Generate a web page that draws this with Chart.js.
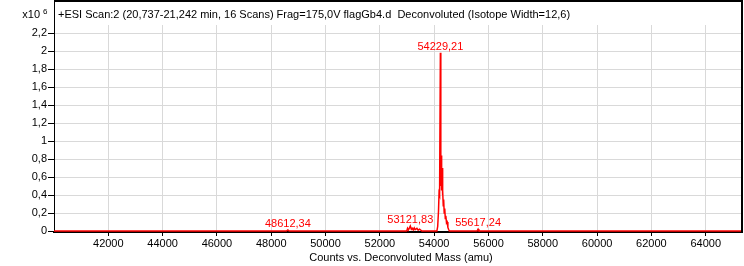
<!DOCTYPE html>
<html>
<head>
<meta charset="utf-8">
<script src="https://cdn.jsdelivr.net/npm/chart.js@4.4.1/dist/chart.umd.min.js"></script>
<style>
  body { margin: 0; background: #fff; }
  canvas { display: block; }
</style>
</head>
<body>
<canvas id="spectrum" width="744" height="266"></canvas>
<script>
// deconvoluted spectrum, counts in units of 10^6
const masses = [40000, 48560, 48612.34, 48660, 52990, 53019, 53050, 53121.83, 53160, 53192, 53230,
  53266, 53300, 53365, 53410, 53461, 53549, 54100, 54130, 54160, 54180, 54200, 54229.21, 54245,
  54261, 54275, 54290, 54305, 54320, 54335, 54350, 54370, 54390, 54410, 54430, 54455, 54480,
  54505, 54530, 54560, 55580, 55617.24, 55650, 65300];
const counts = [0, 0, 0.012, 0, 0, 0.03, 0.01, 0.055, 0.02, 0.03, 0.012,
  0.035, 0.015, 0.03, 0.01, 0.02, 0, 0, 0.05, 0.22, 0.42, 0.4, 1.98, 0.5,
  0.84, 0.45, 0.7, 0.4, 0.45, 0.28, 0.35, 0.2, 0.25, 0.14, 0.17, 0.09, 0.1,
  0.04, 0.02, 0, 0, 0.02, 0, 0];

// labelled peaks
const peakMasses = [48612.34, 53121.83, 54229.21, 55617.24];
const peakCounts = [0.012, 0.055, 1.98, 0.02];
const peakLabels = ['48612,34', '53121,83', '54229,21', '55617,24'];

const xTicks = [42000, 44000, 46000, 48000, 50000, 52000, 54000, 56000, 58000, 60000, 62000, 64000];
const yTicks = [0, 0.2, 0.4, 0.6, 0.8, 1, 1.2, 1.4, 1.6, 1.8, 2, 2.2];

const titleText = '+ESI Scan:2 (20,737-21,242 min, 16 Scans) Frag=175,0V flagGb4.d  Deconvoluted (Isotope Width=12,6)';
const xTitle = 'Counts vs. Deconvoluted Mass (amu)';

const FONT = '"Liberation Sans", Arial, sans-serif';
Chart.defaults.font.family = FONT;
Chart.defaults.font.size = 11;
Chart.defaults.color = '#000';

// frame, header text, axis title and peak labels
const decorations = {
  id: 'decorations',
  afterDraw(chart) {
    const ctx = chart.ctx;
    const ca = chart.chartArea;
    const xs = chart.scales.x, ys = chart.scales.y;
    ctx.save();
    ctx.fillStyle = '#000';
    ctx.fillRect(ca.left, 0, ca.right - ca.left + 2, 2);
    ctx.fillRect(ca.right, 0, 2, ca.bottom + 1);
    ctx.fillRect(ca.left, 0, 1, ca.top);

    ctx.font = '11px ' + FONT;
    ctx.textBaseline = 'alphabetic';
    ctx.textAlign = 'left';
    ctx.fillText(titleText, ca.left + 4, 18);
    ctx.textAlign = 'right';
    ctx.fillText('x10', 40, 18);
    ctx.font = '8px ' + FONT;
    ctx.textAlign = 'left';
    ctx.fillText('6', 43, 14);

    ctx.font = '11px ' + FONT;
    ctx.textAlign = 'center';
    ctx.fillText(xTitle, 401, 261);

    ctx.fillStyle = '#ff0000';
    peakMasses.forEach((m, i) => {
      const px = xs.getPixelForValue(m);
      const py = ys.getPixelForValue(peakCounts[i]);
      ctx.fillText(peakLabels[i], px, py - 3);
    });
    ctx.restore();
  }
};

new Chart(document.getElementById('spectrum'), {
  type: 'line',
  data: {
    datasets: [{
      data: masses.map((m, i) => ({ x: m, y: counts[i] })),
      borderColor: '#ff0000',
      borderWidth: 1.5,
      pointRadius: 0,
      tension: 0,
      fill: false
    }]
  },
  options: {
    responsive: false,
    animation: false,
    layout: { padding: { top: 25, right: 3, left: 0, bottom: 0 } },
    plugins: { legend: { display: false }, tooltip: { enabled: false } },
    scales: {
      x: {
        type: 'linear',
        min: 40000,
        max: 65300,
        afterFit: s => { s.height = 34; },
        afterBuildTicks: s => { s.ticks = xTicks.map(v => ({ value: v })); },
        ticks: {
          autoSkip: false,
          maxRotation: 0,
          padding: 1,
          callback: v => String(v)
        },
        grid: { color: '#d9d9d9', tickColor: '#000', tickLength: 4 },
        border: { color: '#000', width: 2 }
      },
      y: {
        min: -0.011,
        max: 2.289,
        afterFit: s => { s.width = 54; },
        afterBuildTicks: s => { s.ticks = yTicks.map(v => ({ value: v })); },
        ticks: {
          padding: 1,
          callback: v => String(Number(v.toFixed(1))).replace('.', ',')
        },
        grid: { color: '#d9d9d9', tickColor: '#000', tickLength: 6 },
        border: { color: '#000', width: 1 }
      }
    }
  },
  plugins: [decorations]
});
</script>
</body>
</html>
